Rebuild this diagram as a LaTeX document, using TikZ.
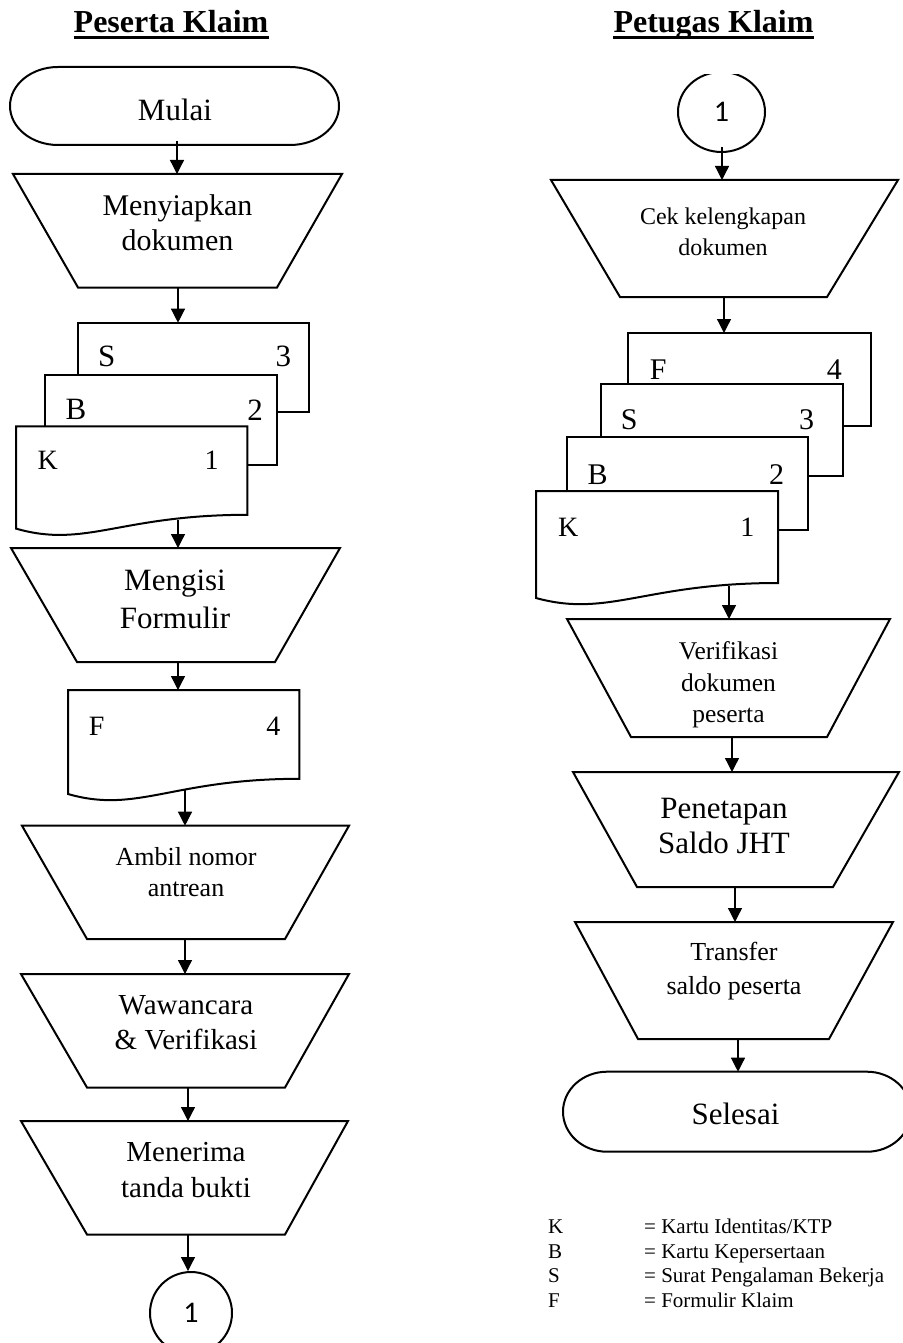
\documentclass[tikz,border=0pt]{standalone}
\usepackage{fontspec}
\setmainfont{Liberation Serif}
\newfontfamily\carlitofont{Carlito}
\usetikzlibrary{arrows.meta,shapes.geometric}
\begin{document}
\begin{tikzpicture}[x=1pt,y=-1pt,
  shp/.style={draw=black, line width=2pt, fill=white, line join=miter},
  arr/.style={draw=black, line width=1.3pt, -{Triangle[length=14pt,width=14pt]}},
  txt/.style={align=center, inner sep=0pt, text=black},
  ttl/.style={inner sep=0pt, font=\bfseries\fontsize{32}{38}\selectfont},
  conn/.style={ellipse, draw=black, line width=2pt, fill=white, inner sep=0pt, font=\carlitofont\fontsize{30}{34}\selectfont},
  leg/.style={inner sep=0pt, anchor=base west, font=\fontsize{21}{24}\selectfont}
]
\useasboundingbox (0,0) rectangle (902,1343);

% ---------------- Titles ----------------
\node[ttl, anchor=base] (tpes) at (171,33) {Peserta Klaim};
\draw[line width=3pt] ([yshift=-5pt]tpes.base west) -- ([yshift=-5pt]tpes.base east);
\node[ttl, anchor=base] (tpet) at (713.5,33) {Petugas Klaim};
\draw[line width=3pt] ([yshift=-5pt]tpet.base west) -- ([yshift=-5pt]tpet.base east);

% ---------------- Left column ----------------
\draw[shp] (58,67) -- (290,67) arc[start angle=-90,end angle=90,x radius=49,y radius=39]
  -- (58,145) arc[start angle=90,end angle=270,x radius=48,y radius=39] -- cycle;
\node[txt, font=\fontsize{31}{36}\selectfont] (mulai) at (175,110) {Mulai};

\draw[shp] (13,174) -- (342,174) -- (277,287.5) -- (78,287.5) -- cycle;
\node[txt, font=\fontsize{30}{35}\selectfont] (siap) at (177.5,222.5) {Menyiapkan\\dokumen};

% document stack (left)
\draw[shp] (77.7,322.7) rectangle (309,412);
\draw[shp] (45,375.3) rectangle (276.7,465);
\draw[shp] (16,426.3) -- (247.3,426.3) -- (247.3,514.8) .. controls (120.1,514.8) and (85.4,548.6) .. (16,528.6) -- cycle;
\node[txt, font=\fontsize{31}{36}\selectfont] (lS) at (106.7,356.4) {S};
\node[txt, font=\fontsize{31}{36}\selectfont] (l3) at (283.3,356.4) {3};
\node[txt, font=\fontsize{31}{36}\selectfont] (lB) at (76,409.8) {B};
\node[txt, font=\fontsize{31}{36}\selectfont] (l2) at (255,409.8) {2};
\node[txt, font=\fontsize{28}{32}\selectfont] (lK) at (47.7,460.7) {K};
\node[txt, font=\fontsize{28}{32}\selectfont] (l1) at (211.7,460.7) {1};

\draw[shp] (11,548) -- (340,548) -- (275,662) -- (77,662) -- cycle;
\node[txt, font=\fontsize{31}{38}\selectfont] (isi) at (175,599) {Mengisi\\Formulir};

\draw[shp] (68,690) -- (299.3,690) -- (299.3,778.8) .. controls (172.1,778.8) and (137.4,814) .. (68,794) -- cycle;
\node[txt, font=\fontsize{28}{32}\selectfont] (lF) at (96.7,726) {F};
\node[txt, font=\fontsize{28}{32}\selectfont] (l4) at (273.3,726) {4};

\draw[shp] (22,825.7) -- (349,825.7) -- (285,939) -- (87,939) -- cycle;
\node[txt, font=\fontsize{26}{31}\selectfont] (ambil) at (186,872.5) {Ambil nomor\\antrean};

\draw[shp] (21,974) -- (349,974) -- (285,1087.5) -- (87,1087.5) -- cycle;
\node[txt, font=\fontsize{29}{35}\selectfont] (waw) at (186,1022.5) {Wawancara\\\& Verifikasi};

\draw[shp] (21,1121) -- (348,1121) -- (285,1234.5) -- (87,1234.5) -- cycle;
\node[txt, font=\fontsize{29}{36}\selectfont] (terima) at (186,1170) {Menerima\\tanda bukti};

\node[conn, minimum width=82pt, minimum height=82pt] (cL) at (191,1313) {1};

% left connectors
\coordinate (a1s) at (177,141);   \coordinate (a1e) at (177,174);
\coordinate (a2s) at (178,287.5); \coordinate (a2e) at (178,322.7);
\coordinate (a3s) at (178,520);   \coordinate (a3e) at (178,548);
\coordinate (a4s) at (178,662);   \coordinate (a4e) at (178,690);
\coordinate (a5s) at (185,790);   \coordinate (a5e) at (185,825.7);
\coordinate (a6s) at (185,939);   \coordinate (a6e) at (185,974);
\coordinate (a7s) at (188,1087.5);\coordinate (a7e) at (188,1121);
\coordinate (a8s) at (188,1234.5);
\draw[arr] (a1s) -- (a1e);
\draw[arr] (a2s) -- (a2e);
\draw[arr] (a3s) -- (a3e);
\draw[arr] (a4s) -- (a4e);
\draw[arr] (a5s) -- (a5e);
\draw[arr] (a6s) -- (a6e);
\draw[arr] (a7s) -- (a7e);
\draw[arr] (a8s) -- (a8s |- cL.north);

% ---------------- Right column ----------------
\begin{scope}
  \clip (600,75) rectangle (850,200);
  \node[conn, minimum width=87pt, minimum height=80pt] (cR) at (721.5,112) {1};
\end{scope}

\draw[shp] (551,180) -- (898,180) -- (827,297) -- (620,297) -- cycle;
\node[txt, font=\fontsize{24}{31}\selectfont] (cek) at (723,231.5) {Cek kelengkapan\\dokumen};

% document stack (right)
\draw[shp] (628,333) rectangle (871,426);
\draw[shp] (601,384) rectangle (843,476);
\draw[shp] (567,437) rectangle (808,530);
\draw[shp] (536,491) -- (778,491) -- (778,583) .. controls (644.9,583) and (608.6,618) .. (536,598) -- cycle;
\node[txt, font=\fontsize{30}{34}\selectfont] (rF) at (658.3,369.3) {F};
\node[txt, font=\fontsize{30}{34}\selectfont] (r4) at (834.3,369.3) {4};
\node[txt, font=\fontsize{30}{34}\selectfont] (rS) at (629.3,420) {S};
\node[txt, font=\fontsize{30}{34}\selectfont] (r3) at (806.7,420) {3};
\node[txt, font=\fontsize{30}{34}\selectfont] (rB) at (597.7,475) {B};
\node[txt, font=\fontsize{30}{34}\selectfont] (r2) at (776.7,475) {2};
\node[txt, font=\fontsize{28}{32}\selectfont] (rK) at (568.3,527.7) {K};
\node[txt, font=\fontsize{28}{32}\selectfont] (r1) at (747.3,527.7) {1};

\draw[shp] (567,619) -- (890,619) -- (827,737) -- (631,737) -- cycle;
\node[txt, font=\fontsize{25.5}{31.5}\selectfont] (verif) at (728.5,685) {Verifikasi\\dokumen\\peserta};

\draw[shp] (573,772) -- (899,772) -- (833,887) -- (637,887) -- cycle;
\node[txt, font=\fontsize{31}{35}\selectfont] (tetap) at (724,825.5) {Penetapan\\Saldo JHT};

\draw[shp] (575,922) -- (893,922) -- (829,1039) -- (638,1039) -- cycle;
\node[txt, font=\fontsize{26}{34}\selectfont] (transfer) at (734,971) {Transfer\\saldo peserta};

\draw[shp] (607,1071.7) -- (867,1071.7) arc[start angle=-90,end angle=90,x radius=44,y radius=40]
  -- (607,1151.7) arc[start angle=90,end angle=270,x radius=44,y radius=40] -- cycle;
\node[txt, font=\fontsize{31}{36}\selectfont] (selesai) at (735.5,1114) {Selesai};

% right connectors
\coordinate (b1s) at (722,147);   \coordinate (b1e) at (722,180);
\coordinate (b2s) at (724,297);   \coordinate (b2e) at (724,333);
\coordinate (b3s) at (729,586);   \coordinate (b3e) at (729,619);
\coordinate (b4s) at (732,737);   \coordinate (b4e) at (732,772);
\coordinate (b5s) at (735,887);   \coordinate (b5e) at (735,922);
\coordinate (b6s) at (738,1039);  \coordinate (b6e) at (738,1071.7);
\draw[arr] (b1s) -- (b1e);
\draw[arr] (b2s) -- (b2e);
\draw[arr] (b3s) -- (b3e);
\draw[arr] (b4s) -- (b4e);
\draw[arr] (b5s) -- (b5e);
\draw[arr] (b6s) -- (b6e);

% ---------------- Legend ----------------
\node[leg] (kK) at (548,1233.5) {K};
\node[leg] (kB) at (548,1258) {B};
\node[leg] (kS) at (548,1282.5) {S};
\node[leg] (kF) at (548,1307) {F};
\node[leg] (vK) at (644,1233.5) {= Kartu Identitas/KTP};
\node[leg] (vB) at (644,1258) {= Kartu Kepersertaan};
\node[leg] (vS) at (644,1282.5) {= Surat Pengalaman Bekerja};
\node[leg] (vF) at (644,1307) {= Formulir Klaim};
\end{tikzpicture}
\end{document}
